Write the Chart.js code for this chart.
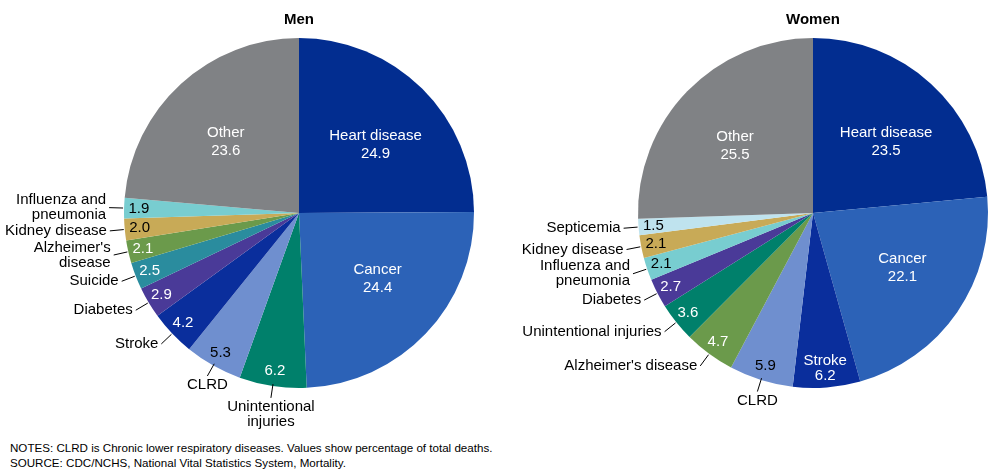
<!DOCTYPE html>
<html>
<head>
<meta charset="utf-8">
<script src="https://cdn.jsdelivr.net/npm/chart.js@4.4.0/dist/chart.umd.min.js"></script>
<style>
  body { margin: 0; background: #fff; }
  #wrap { position: relative; width: 1000px; height: 473px; font-family: "Liberation Sans", Arial, sans-serif; }
  #menChart { position: absolute; left: 0; top: 0; }
  #womenChart { position: absolute; left: 510px; top: 0; }
  #notes { position: absolute; left: 10px; top: 440px; font-size: 11.6px; line-height: 15px; color: #000; }
</style>
</head>
<body>
<div id="wrap">
  <canvas id="menChart" width="510" height="440"></canvas>
  <canvas id="womenChart" width="490" height="440"></canvas>
  <div id="notes">NOTES: CLRD is Chronic lower respiratory diseases. Values show percentage of total deaths.<br>SOURCE: CDC/NCHS, National Vital Statistics System, Mortality.</div>
</div>
<script>
// Data (percentage of total deaths), clockwise from 12 o'clock
const menCauses = ['Heart disease', 'Cancer', 'Unintentional injuries', 'CLRD', 'Stroke', 'Diabetes',
  'Suicide', "Alzheimer's disease", 'Kidney disease', 'Influenza and pneumonia', 'Other'];
const menValues = [24.9, 24.4, 6.2, 5.3, 4.2, 2.9, 2.5, 2.1, 2.0, 1.9, 23.6];

const womenCauses = ['Heart disease', 'Cancer', 'Stroke', 'CLRD', "Alzheimer's disease", 'Unintentional injuries',
  'Diabetes', 'Influenza and pneumonia', 'Kidney disease', 'Septicemia', 'Other'];
const womenValues = [23.5, 22.1, 6.2, 5.9, 4.7, 3.6, 2.7, 2.1, 2.1, 1.5, 25.5];

// names written inside the slice; the others get an outside label + leader line
const menInside = ['Heart disease', 'Cancer', 'Other'];
const womenInside = ['Heart disease', 'Cancer', 'Stroke', 'Other'];

// line breaks for outside labels
const menWrap = {
  'Influenza and pneumonia': ['Influenza and', 'pneumonia'],
  "Alzheimer's disease": ["Alzheimer's", 'disease'],
  'Unintentional injuries': ['Unintentional', 'injuries']
};
const womenWrap = {
  'Influenza and pneumonia': ['Influenza and', 'pneumonia']
};

const sliceColors = {
  'Heart disease': '#022d90',
  'Cancer': '#2c62b7',
  'Unintentional injuries': '#00806b',
  'CLRD': '#6f8fcf',
  'Stroke': '#0a2e9c',
  'Diabetes': '#4a3a98',
  'Suicide': '#2a8c9e',
  "Alzheimer's disease": '#6b9a4b',
  'Kidney disease': '#c8aa57',
  'Influenza and pneumonia': '#78cdd0',
  'Septicemia': '#bfe3ee',
  'Other': '#808285'
};
const darkText = ['Influenza and pneumonia', 'Kidney disease', 'CLRD', 'Septicemia'];

const FONT = '"Liberation Sans", Arial, sans-serif';

const labelPlugin = {
  id: 'sliceLabels',
  afterDatasetsDraw(chart, args, opts) {
    const ctx = chart.ctx;
    const meta = chart.getDatasetMeta(0);
    const causes = chart.data.labels;
    const values = chart.data.datasets[0].data;
    ctx.save();
    ctx.textBaseline = 'middle';

    // title
    ctx.fillStyle = '#000';
    ctx.textAlign = 'center';
    ctx.font = 'bold 15px ' + FONT;
    const a0 = meta.data[0].getProps(['x'], true);
    ctx.fillText(opts.title, a0.x, 20);

    ctx.font = '15px ' + FONT;
    meta.data.forEach((arc, i) => {
      const p = arc.getProps(['x', 'y', 'startAngle', 'endAngle', 'outerRadius'], true);
      const mid = (p.startAngle + p.endAngle) / 2;
      const cos = Math.cos(mid), sin = Math.sin(mid);
      const r = p.outerRadius;
      const name = causes[i];
      const val = values[i].toFixed(1);

      ctx.fillStyle = darkText.includes(name) ? '#000' : '#fff';
      ctx.textAlign = 'center';
      if (opts.inside.includes(name)) {
        if (values[i] > 10) {
          // big slices: label a bit flatter than a circle
          const cx = p.x + cos * r * 0.62, cy = p.y + sin * r * 0.55;
          ctx.fillText(name, cx, cy - 9);
          ctx.fillText(val, cx, cy + 9);
        } else {
          const cx = p.x + cos * r * 0.89, cy = p.y + sin * r * 0.89;
          ctx.fillText(name, cx, cy - 7.5);
          ctx.fillText(val, cx, cy + 7.5);
        }
        return;
      }
      ctx.fillText(val, p.x + cos * r * 0.915, p.y + sin * r * 0.915);

      // outside label with leader line
      const lines = opts.wrap[name] || [name];
      const below = sin > 0.85;
      const r1 = below ? r - 2 : r + 1;
      const r2 = below ? r + 12 : r + 15;
      const ex = p.x + cos * r2, ey = p.y + sin * r2;
      ctx.strokeStyle = '#000';
      ctx.lineWidth = 1;
      ctx.beginPath();
      ctx.moveTo(p.x + cos * r1, p.y + sin * r1);
      ctx.lineTo(ex, ey);
      ctx.stroke();

      ctx.fillStyle = '#000';
      if (below) {
        ctx.textAlign = 'center';
        lines.forEach((t, k) => ctx.fillText(t, ex, ey + 9 + k * 15));
      } else {
        ctx.textAlign = 'right';
        const top = ey - (lines.length - 1) * 7.5;
        lines.forEach((t, k) => ctx.fillText(t, ex - 3, top + k * 15));
      }
    });
    ctx.restore();
  }
};

function makePie(id, causes, values, title, inside, wrap, padding) {
  return new Chart(document.getElementById(id), {
    type: 'pie',
    data: {
      labels: causes,
      datasets: [{
        data: values,
        backgroundColor: causes.map(c => sliceColors[c]),
        borderWidth: 0
      }]
    },
    options: {
      responsive: false,
      animation: false,
      layout: { padding: padding },
      plugins: {
        legend: { display: false },
        tooltip: { enabled: false },
        sliceLabels: { title: title, inside: inside, wrap: wrap }
      }
    },
    plugins: [labelPlugin]
  });
}

makePie('menChart', menCauses, menValues, 'Men', menInside, menWrap,
  { left: 124, top: 38, right: 36, bottom: 52 });
makePie('womenChart', womenCauses, womenValues, 'Women', womenInside, womenWrap,
  { left: 128, top: 38, right: 12, bottom: 52 });
</script>
</body>
</html>
